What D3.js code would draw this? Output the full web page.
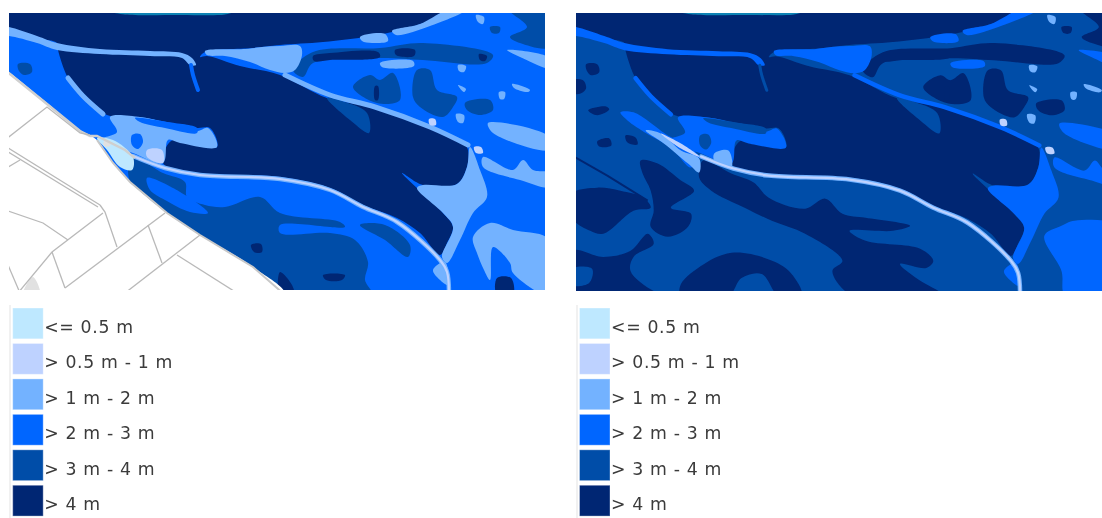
<!DOCTYPE html>
<html>
<head>
<meta charset="utf-8">
<script src="https://d3js.org/d3.v7.min.js"></script>
<style>
  html, body { margin: 0; padding: 0; background: #fff; overflow: hidden; }
  text { font-family: "DejaVu Sans", sans-serif; }
</style>
</head>
<body>
<svg id="chart" width="1102" height="518"></svg>
<script>
// legend
const depth_labels = ["<= 0.5 m", "> 0.5 m - 1 m", "> 1 m - 2 m", "> 2 m - 3 m", "> 3 m - 4 m", "> 4 m"];
const depth_colors = ["#bee8ff", "#bed2ff", "#73b2ff", "#0066ff", "#004da8", "#002673"];

// flood depth shapes, map units. same coordinate frame for both panels
const basin = [[0,5],[460,5],[450,13],[430,21],[400,30],[372,36],[323,42],[280,45],[253,48],[205,52],[200,57],[207,56],[240,66],[280,75],[327,98],[377,108],[430,127],[462,141],[468,150],[467,167],[457,184],[423,185],[402,173],[443,213],[453,227],[447,243],[440,255],[420,233],[397,218],[363,205],[330,188],[280,177],[180,172],[163,163],[165,150],[173,140],[217,147],[210,128],[197,128],[167,122],[140,117],[107,115],[83,97],[68,78],[58,50],[57,43],[37,38],[9,28],[0,26]];
const basin_notch = [[327,98],[345,102],[367,113],[369,133],[350,120]];
const fan = [[110,117],[140,117],[167,123],[197,131],[208,128],[217,147],[180,143],[168,140],[163,163],[133,153],[100,140],[117,132]];
const fan_band = [[135,118],[167,122],[197,128],[197,133],[165,128],[140,122]];
const fan_dot = [[132,135],[140,134],[143,142],[138,149],[132,145]];
const stripe_west = [[0,26],[9,27],[37,36],[57,43],[100,49],[150,51],[182,53],[192,58],[196,65],[190,65],[182,58],[150,56],[100,54],[57,50],[37,43],[9,36],[0,36]];
const stripe_spur = [[191,65],[193,75],[198,90]];
const stripe_north = [[205,51],[245,49],[262,47],[280,46],[300,46],[302,55],[295,70],[285,73],[270,70],[250,62],[225,56],[207,55]];
const stripe_basin = [[285,75],[330,95],[375,107],[430,127],[468,145]];
const stripe_lobe = [[68,78],[83,96],[103,114]];
const stripe_shore = [[133,156],[165,168],[200,175],[280,179],[330,190],[363,207],[397,222],[440,260],[447,272],[449,295]];
const fan_east = [[470,147],[480,170],[487,197],[473,213],[460,240],[447,263],[442,257],[453,227],[443,213],[417,188],[423,185],[457,184],[467,167]];
const east_a = [[488,123],[550,137],[550,150],[493,133]];
const east_b = [[483,157],[513,170],[523,160],[533,170],[550,173],[550,187],[520,180],[483,167]];
const east_c = [[507,50],[550,58],[550,68],[520,57]];
const top_edge_a = [[360,37],[385,34],[388,41],[372,43],[362,41]];
const top_edge_b = [[392,31],[420,24],[448,10],[466,10],[430,26],[396,35]];
const sand_a = [[380,63],[413,61],[414,66],[382,67]];
const sand_dots = [[[458,65],[466,66],[464,72],[459,71]],[[476,15],[484,17],[483,24],[478,22]],[[458,85],[466,89],[464,92]],[[512,84],[530,90],[528,92],[514,88]],[[499,92],[505,92],[504,99],[500,99]],[[456,114],[464,115],[463,123],[458,122]]];
const se_lobe = [[473,237],[490,223],[513,230],[550,240],[550,295],[513,273],[510,263],[493,247],[490,280],[484,270],[477,253]];
const se_right = [[473,235],[490,225],[503,220],[550,227],[550,295],[494,295],[490,270]];
const junction_lobe = [[433,270],[445,262],[448,285],[440,280]];
const white_dots = [[[429,119],[435,119],[436,125],[430,125]],[[474,147],[481,147],[483,153],[476,153]]];

// deep patches north east, one class deeper on the right panel
const ne_band = [[293,70],[313,52],[380,48],[423,43],[493,55],[487,63],[423,60],[380,58],[313,63],[303,77]];
const ne_block = [[353,87],[370,75],[380,80],[393,73],[400,100],[377,103]];
const ne_cross = [[417,70],[430,70],[437,90],[457,97],[453,107],[443,117],[420,107],[413,97]];
const ne_oval = [[465,103],[490,100],[493,110],[480,115],[467,110]];
const ne_corner = [[507,8],[550,8],[550,47],[520,43],[510,37],[527,27]];
const ne_spot = [[490,27],[500,27],[499,33],[492,33]];
const ne_all = [ne_band, ne_block, ne_cross, ne_oval, ne_corner, ne_spot];
const ne_dark = [[[313,56],[330,53],[378,52],[380,57],[330,60],[314,61]],[[395,50],[415,50],[414,56],[396,55]],[[479,54],[487,56],[485,61],[480,60]],[[375,86],[378,86],[378,100],[375,100]]];

// left panel, coast side
const sw_deep = [[132,157],[163,173],[185,182],[187,197],[205,205],[225,207],[260,197],[280,213],[340,222],[345,227],[280,225],[280,233],[330,233],[355,240],[368,262],[365,280],[372,295],[280,295],[253,267],[200,235],[167,213],[130,182]];
const sw_patch = [[360,225],[385,225],[410,245],[408,257],[385,240]];
const sw_bright = [[147,178],[180,192],[208,213],[190,212],[165,200],[150,190]];
const sw_spot = [[[18,64],[30,64],[32,72],[24,75],[19,71]]];
const sw_dark = [[[251,245],[261,244],[262,252],[254,252]],[[323,275],[345,275],[342,280],[326,280]],[[280,272],[292,285],[294,295],[280,295]]];
const south_spot = [[497,278],[511,278],[513,295],[497,295]];
const shallow_west = [[97,138],[113,140],[133,157],[132,170],[120,167],[107,150]];
const shallow_pool = [[147,150],[162,150],[163,163],[147,157]];
const teal_strip = [[112,12],[233,12],[225,14.5],[180,15],[125,14.5]];

// right panel, same area but deeper
const r_upper = [[135,160],[163,173],[185,182],[200,197],[236,208],[256,198],[273,213],[296,217],[340,225],[323,230],[280,230],[296,240],[350,248],[363,260],[356,267],[330,263],[346,277],[373,295],[283,295],[263,270],[273,260],[236,233],[203,220],[176,207],[143,190],[131,177]];
const r_arc = [[113,283],[136,263],[163,252],[196,257],[220,270],[233,295],[210,295],[193,273],[173,277],[160,295],[113,295]];
const r_west_a = [[5,193],[30,187],[53,190],[76,197],[83,207],[66,210],[36,233],[23,230],[5,217]];
const r_west_b = [[73,160],[90,163],[113,180],[126,190],[103,207],[123,213],[120,226],[100,236],[83,226],[86,210],[83,190],[75,173]];
const r_west_c = [[5,250],[36,256],[63,250],[80,233],[86,243],[66,256],[63,270],[86,290],[103,295],[5,295]];
const r_west_gap = [[5,268],[25,268],[22,282],[5,284]];
const r_spots = [[[19,64],[30,64],[32,72],[24,75],[20,71]],[[5,80],[16,80],[19,88],[14,93],[5,93]],[[21,110],[38,106],[42,109],[30,115]],[[58,135],[68,137],[70,144],[60,142]],[[30,141],[42,138],[44,145],[32,146]]];
const r_west_line = [[5,155],[40,175],[80,200]];
const r_wedge = [[53,112],[66,112],[100,135],[116,143],[131,157],[123,167],[103,147],[79,133],[60,120]];
const r_light = [[78,130],[93,133],[113,150],[131,158],[131,172],[120,163],[96,143]];
const r_pale = [[93,133],[113,143],[133,157],[113,148]];
const r_pool = [[146,153],[160,150],[163,167],[146,160]];

// parcels and road on the land
const land = [[0,65],[9,72],[47,103],[80,130],[97,140],[113,163],[130,182],[167,213],[200,235],[253,267],[285,295],[0,295]];
const land_grey = [[33,277],[40,295],[23,295]];
const land_box = [[104,141],[110,141],[110,146],[104,146]];
const shore_line = [[5,70],[47,104],[80,131],[90,136],[97,136],[125,150],[135,158]];
const coast_line = [[97,140],[113,163],[130,182],[167,213],[200,235],[253,267],[285,295]];
const parcels = [
  [[5,140],[47,107],[80,133],[90,135]],
  [[5,146],[100,205]], [[5,150],[98,207]],
  [[5,169],[20,160]],
  [[100,205],[105,212],[117,247]],
  [[5,210],[43,223],[68,240]],
  [[103,213],[52,252],[18,293]],
  [[52,252],[65,288]],
  [[5,258],[20,293]],
  [[165,213],[65,288]],
  [[148,225],[162,263]],
  [[200,235],[125,293]],
  [[177,255],[237,293]]
];

const c = { shallow: depth_colors[0], pale: depth_colors[1], light: depth_colors[2], mid: depth_colors[3], deep: depth_colors[4], navy: depth_colors[5] };

const svg = d3.select("#chart");
const defs = svg.append("defs");
defs.append("filter").attr("id", "soft")
  .append("feGaussianBlur").attr("stdDeviation", 0.45);
defs.append("filter").attr("id", "soft-text")
  .append("feGaussianBlur").attr("stdDeviation", 0.3);

function makePanel(id, px, py, pw, ph, xRange, yRange) {
  defs.append("clipPath").attr("id", id)
    .append("rect").attr("x", px).attr("y", py).attr("width", pw).attr("height", ph);
  const g = svg.append("g").attr("clip-path", `url(#${id})`).append("g").attr("filter", "url(#soft)");
  const x = d3.scaleLinear().domain([9, 545]).range(xRange);
  const y = d3.scaleLinear().domain([13, 290]).range(yRange);
  const area = d3.line().x((d) => x(d[0])).y((d) => y(d[1])).curve(d3.curveCatmullRomClosed.alpha(0.5));
  const line = d3.line().x((d) => x(d[0])).y((d) => y(d[1])).curve(d3.curveCatmullRom);
  const straight = d3.line().x((d) => x(d[0])).y((d) => y(d[1]));
  return {
    base(color) { g.append("rect").attr("x", px).attr("y", py).attr("width", pw).attr("height", ph).attr("fill", color); },
    fill(shapes, color) {
      g.append("g").selectAll("path").data(shapes).enter().append("path")
        .attr("d", (d) => area(d)).attr("fill", color);
    },
    stroke(lines, color, width) {
      g.append("g").selectAll("path").data(lines).enter().append("path")
        .attr("d", (d) => line(d)).attr("fill", "none").attr("stroke", color)
        .attr("stroke-width", width).attr("stroke-linecap", "round");
    },
    rule(lines, color, width) {
      g.append("g").selectAll("path").data(lines).enter().append("path")
        .attr("d", (d) => straight(d)).attr("fill", "none").attr("stroke", color)
        .attr("stroke-width", width);
    }
  };
}

// left panel
const left = makePanel("clip-left", 9, 13, 536, 277, [9, 545], [13, 290]);
left.base(c.mid);
left.fill([sw_deep, sw_patch, ...ne_all], c.deep);
left.fill([sw_bright], c.mid);
left.fill([...ne_dark, ...sw_dark, south_spot, basin], c.navy);
left.fill([basin_notch, ...sw_spot], c.deep);
left.fill([teal_strip], "#1083b5");
left.fill([fan, fan_east, east_a, east_b, east_c, top_edge_a, top_edge_b, sand_a, ...sand_dots, se_lobe, stripe_north, stripe_west, junction_lobe], c.light);
left.fill([fan_band, fan_dot], c.mid);
left.stroke([stripe_spur], c.mid, 4);
left.stroke([stripe_basin, stripe_lobe], c.light, 5);
left.stroke([stripe_shore], c.light, 4.5);
left.stroke([stripe_shore], c.pale, 2.2);
left.fill([shallow_west], c.shallow);
left.fill([shallow_pool, ...white_dots], c.pale);
left.fill([land], "#ffffff");
left.fill([land_grey, land_box], "#e1e1e1");
left.rule([shore_line], "#cfcfcf", 2.5);
left.rule([coast_line], "#c8c8c8", 2);
left.rule(parcels, "#b9b9b9", 1.3);

// right panel
const right = makePanel("clip-right", 576, 13, 526, 278, [576, 1117], [13, 291]);
right.base(c.deep);
right.fill([...ne_all, ...ne_dark, r_upper, r_arc, r_west_a, r_west_b, r_west_c, ...r_spots, south_spot, basin], c.navy);
right.fill([basin_notch, r_west_gap], c.deep);
right.rule([r_west_line], c.navy, 2);
right.fill([teal_strip], "#1083b5");
right.fill([fan, r_wedge, fan_east, east_a, east_b, east_c, top_edge_a, top_edge_b, sand_a, se_right, stripe_north, stripe_west, junction_lobe], c.mid);
right.fill([fan_band, fan_dot], c.deep);
right.fill(sand_dots, c.light);
right.stroke([stripe_spur], c.deep, 3);
right.stroke([stripe_basin, stripe_lobe], c.mid, 4.5);
right.fill([r_light, r_pool], c.light);
right.fill([r_pale, ...white_dots], c.pale);
right.stroke([stripe_shore], c.light, 4.5);
right.stroke([stripe_shore], c.pale, 2.2);

// legends
const row_step = 35.45;
const rowScale = d3.scaleBand().domain(depth_labels).range([308, 308 + row_step * (depth_labels.length - 0.13)]).paddingInner(0.13);

function drawLegend(swatchX, lineX) {
  const g = svg.append("g").attr("filter", "url(#soft-text)");
  g.append("line").attr("x1", lineX).attr("x2", lineX).attr("y1", 305).attr("y2", 518)
    .attr("stroke", "#ececec").attr("stroke-width", 1.5);
  const row = g.selectAll(".legend-row").data(depth_labels).enter().append("g").attr("class", "legend-row");
  row.append("rect")
    .attr("x", swatchX).attr("y", (d) => rowScale(d))
    .attr("width", 30.5).attr("height", rowScale.bandwidth())
    .attr("fill", (d, i) => depth_colors[i])
    .attr("stroke", "#ffffff").attr("stroke-opacity", 0.35).attr("stroke-width", 1);
  row.append("text")
    .attr("x", swatchX + 31.5).attr("y", (d) => rowScale(d) + 25)
    .attr("font-size", 17.3).attr("letter-spacing", 0.65).attr("fill", "#3a3a3a")
    .text((d) => d);
}
drawLegend(12.7, 10);
drawLegend(579.5, 577);
</script>
</body>
</html>
